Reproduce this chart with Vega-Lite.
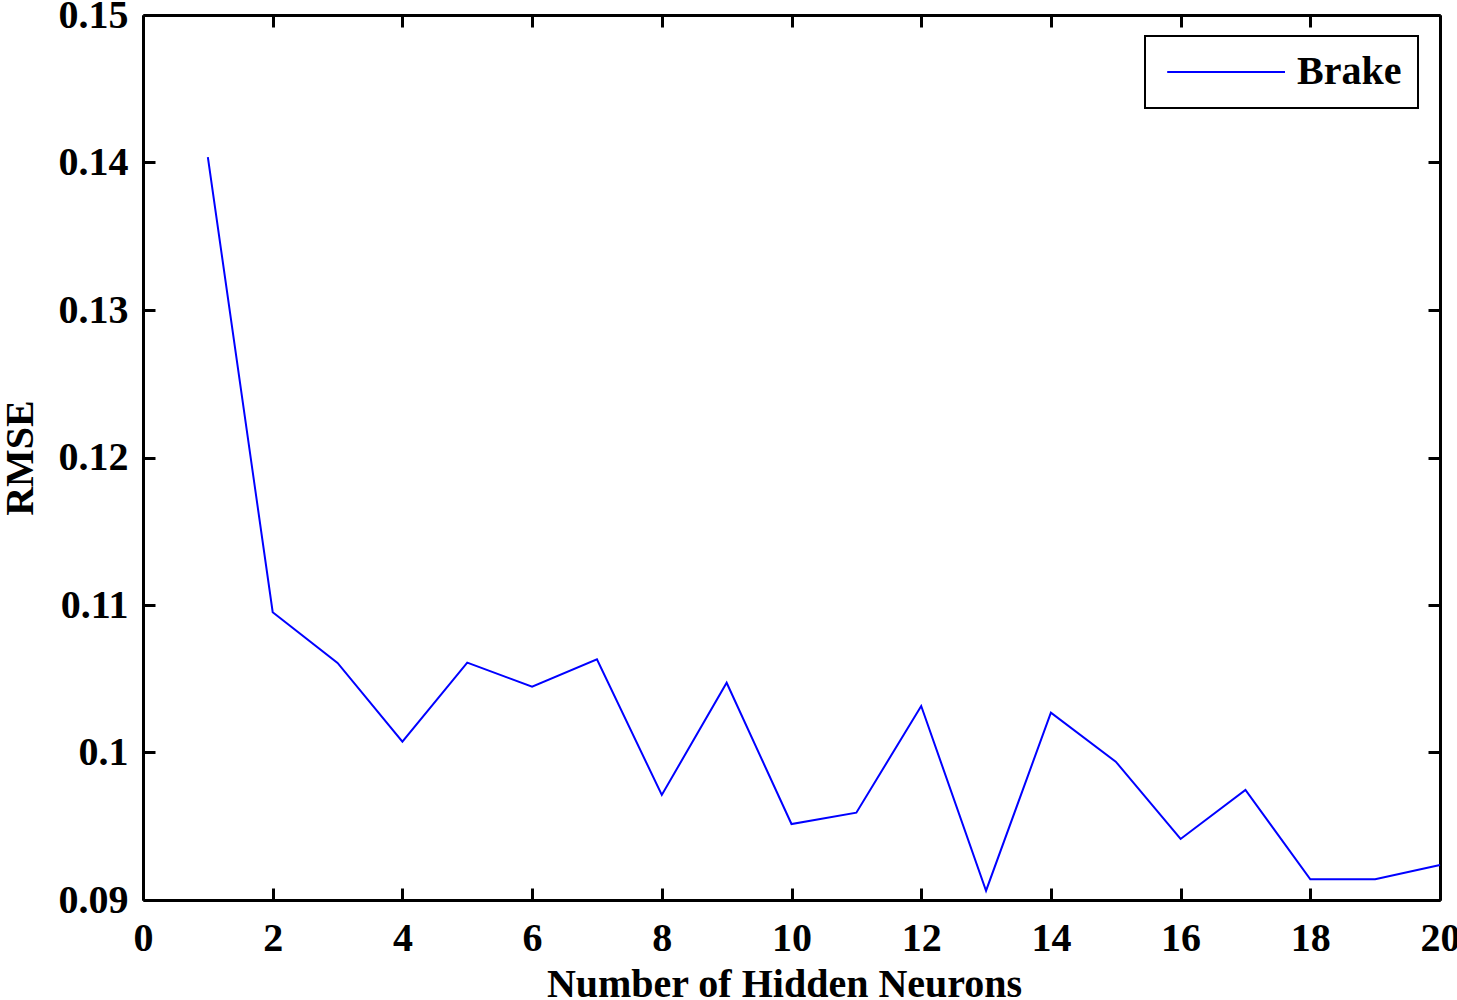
{
  "$schema": "https://vega.github.io/schema/vega-lite/v6.json",
  "width": 1297,
  "height": 885,
  "autosize": {"type": "none"},
  "padding": {"left": 143, "top": 15, "right": 17, "bottom": 100},
  "background": "white",
  "config": {
    "view": {"stroke": null},
    "font": "Liberation Serif",
    "axis": {
      "domainColor": "black",
      "domainWidth": 3,
      "tickColor": "black",
      "tickWidth": 3,
      "tickSize": -12,
      "grid": false,
      "labelFont": "Liberation Serif",
      "labelFontWeight": "bold",
      "labelFontSize": 40,
      "labelColor": "black",
      "titleFont": "Liberation Serif",
      "titleFontWeight": "bold",
      "titleFontSize": 40,
      "titleColor": "black"
    },
    "legend": {"strokeWidth": 2}
  },
  "data": {
    "values": [
      {"n": 1, "rmse": 0.14037, "series": "Brake"},
      {"n": 2, "rmse": 0.10951, "series": "Brake"},
      {"n": 3, "rmse": 0.10607, "series": "Brake"},
      {"n": 4, "rmse": 0.10073, "series": "Brake"},
      {"n": 5, "rmse": 0.10609, "series": "Brake"},
      {"n": 6, "rmse": 0.10446, "series": "Brake"},
      {"n": 7, "rmse": 0.10632, "series": "Brake"},
      {"n": 8, "rmse": 0.09712, "series": "Brake"},
      {"n": 9, "rmse": 0.10473, "series": "Brake"},
      {"n": 10, "rmse": 0.09515, "series": "Brake"},
      {"n": 11, "rmse": 0.09592, "series": "Brake"},
      {"n": 12, "rmse": 0.10315, "series": "Brake"},
      {"n": 13, "rmse": 0.09063, "series": "Brake"},
      {"n": 14, "rmse": 0.1027, "series": "Brake"},
      {"n": 15, "rmse": 0.09938, "series": "Brake"},
      {"n": 16, "rmse": 0.09414, "series": "Brake"},
      {"n": 17, "rmse": 0.09746, "series": "Brake"},
      {"n": 18, "rmse": 0.0914, "series": "Brake"},
      {"n": 19, "rmse": 0.0914, "series": "Brake"},
      {"n": 20, "rmse": 0.09237, "series": "Brake"}
    ]
  },
  "layer": [
    {
      "mark": {"type": "line", "strokeWidth": 2},
      "encoding": {
        "x": {
          "field": "n",
          "type": "quantitative",
          "scale": {"domain": [0, 20], "nice": false, "zero": false},
          "axis": {
            "orient": "bottom",
            "title": "Number of Hidden Neurons",
            "values": [0, 2, 4, 6, 8, 10, 12, 14, 16, 18, 20],
            "labelPadding": 30,
            "titlePadding": 6,
            "titleX": 641,
            "labelFlush": false
          }
        },
        "y": {
          "field": "rmse",
          "type": "quantitative",
          "scale": {"domain": [0.09, 0.15], "nice": false, "zero": false},
          "axis": {
            "orient": "left",
            "title": "RMSE",
            "values": [0.09, 0.1, 0.11, 0.12, 0.13, 0.14, 0.15],
            "format": ".2~f",
            "labelPadding": 27,
            "titlePadding": 18,
            "labelFlush": false
          }
        },
        "color": {
          "field": "series",
          "type": "nominal",
          "scale": {"range": ["#0000ff"]},
          "legend": {
            "title": null,
            "orient": "none",
            "legendX": 1002,
            "legendY": 21,
            "symbolType": "M-5.2,0H1",
            "symbolSize": 1444,
            "symbolStrokeWidth": 2,
            "symbolOffset": 85,
            "labelFont": "Liberation Serif",
            "labelFontWeight": "bold",
            "labelFontSize": 40,
            "labelColor": "black",
            "labelOffset": 11,
            "padding": 16,
            "strokeColor": "black",
            "fillColor": "white"
          }
        }
      }
    },
    {
      "mark": {"type": "line", "opacity": 0},
      "encoding": {
        "x": {
          "field": "n",
          "type": "quantitative",
          "axis": {"orient": "top", "title": null, "labels": false, "values": [0, 2, 4, 6, 8, 10, 12, 14, 16, 18, 20]}
        },
        "y": {
          "field": "rmse",
          "type": "quantitative",
          "axis": {"orient": "right", "title": null, "labels": false, "values": [0.09, 0.1, 0.11, 0.12, 0.13, 0.14, 0.15]}
        }
      }
    }
  ],
  "resolve": {"axis": {"x": "independent", "y": "independent"}}
}
